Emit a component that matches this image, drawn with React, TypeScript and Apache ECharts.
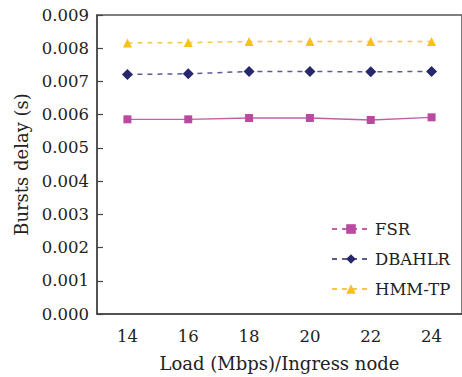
import React, { useEffect, useRef } from "react";
import * as echarts from "echarts";

const categories = ["14", "16", "18", "20", "22", "24"];
const fsr = [0.00586, 0.00586, 0.0059, 0.0059, 0.00584, 0.00592];
const dbahlr = [0.00721, 0.00723, 0.0073, 0.0073, 0.00729, 0.0073];
const hmmtp = [0.00816, 0.00817, 0.0082, 0.0082, 0.0082, 0.0082];

const FONT = "DejaVu Serif";

export default function App() {
  const ref = useRef<HTMLDivElement>(null);
  useEffect(() => {
    const chart = echarts.init(ref.current!, null, { renderer: "svg" });
    chart.setOption({
      animation: false,
      backgroundColor: "#fff",
      textStyle: { fontFamily: FONT },
      grid: {
        left: 97,
        top: 15,
        right: -13,
        bottom: 60,
        show: true,
        borderColor: "#555",
        borderWidth: 1.5,
      },
      legend: {
        orient: "vertical",
        left: 326,
        top: 215,
        itemWidth: 38,
        itemHeight: 12,
        itemGap: 12,
        textStyle: {
          fontFamily: FONT,
          fontSize: 16.5,
          lineHeight: 18,
          color: "#222",
        },
        data: [
          { name: "FSR", lineStyle: { type: [5, 5] } },
          { name: "DBAHLR", lineStyle: { type: [5, 5] } },
          { name: "HMM-TP", lineStyle: { type: [5, 5] } },
        ],
      },
      xAxis: {
        type: "category",
        data: categories,
        boundaryGap: true,
        name: "Load (Mbps)/Ingress node",
        nameLocation: "middle",
        nameGap: 40,
        nameTextStyle: { fontFamily: FONT, fontSize: 18, color: "#222" },
        axisLine: { lineStyle: { color: "#444", width: 1.5 } },
        axisTick: { inside: true, length: 6, alignWithLabel: true, lineStyle: { color: "#444", width: 1.2 } },
        axisLabel: { fontFamily: FONT, fontSize: 16.5, color: "#222", margin: 14 },
        splitLine: { show: false },
      },
      yAxis: {
        type: "value",
        min: 0,
        max: 0.009,
        interval: 0.001,
        name: "Bursts delay (s)",
        nameLocation: "middle",
        nameRotate: 90,
        nameGap: 66,
        nameTextStyle: { fontFamily: FONT, fontSize: 18, color: "#222" },
        axisLine: { show: true, lineStyle: { color: "#444", width: 1.5 } },
        axisTick: { show: true, inside: true, length: 6, lineStyle: { color: "#444", width: 1.2 } },
        axisLabel: {
          fontFamily: FONT,
          fontSize: 16.5,
          color: "#222",
          margin: 8,
          formatter: (v: number) => v.toFixed(3),
        },
        splitLine: { show: false },
      },
      series: [
        {
          name: "FSR",
          type: "line",
          data: fsr,
          symbol: "rect",
          symbolSize: 8,
          itemStyle: { color: "#b94a9f" },
          lineStyle: { color: "#c25fa9", width: 1.3, type: "solid" },
        },
        {
          name: "DBAHLR",
          type: "line",
          data: dbahlr,
          symbol: "diamond",
          symbolSize: 11,
          itemStyle: { color: "#27276b" },
          lineStyle: { color: "#5c5c8f", width: 1.5, type: [5, 5] },
        },
        {
          name: "HMM-TP",
          type: "line",
          data: hmmtp,
          symbol: "triangle",
          symbolSize: 9,
          itemStyle: { color: "#f6c11a" },
          lineStyle: { color: "#f6c84a", width: 1.5, type: [5, 5] },
        },
      ],
    });
    return () => chart.dispose();
  }, []);
  return (
    <div
      ref={ref}
      style={{ position: "fixed", left: 0, top: 0, width: 462, height: 377 }}
    />
  );
}
